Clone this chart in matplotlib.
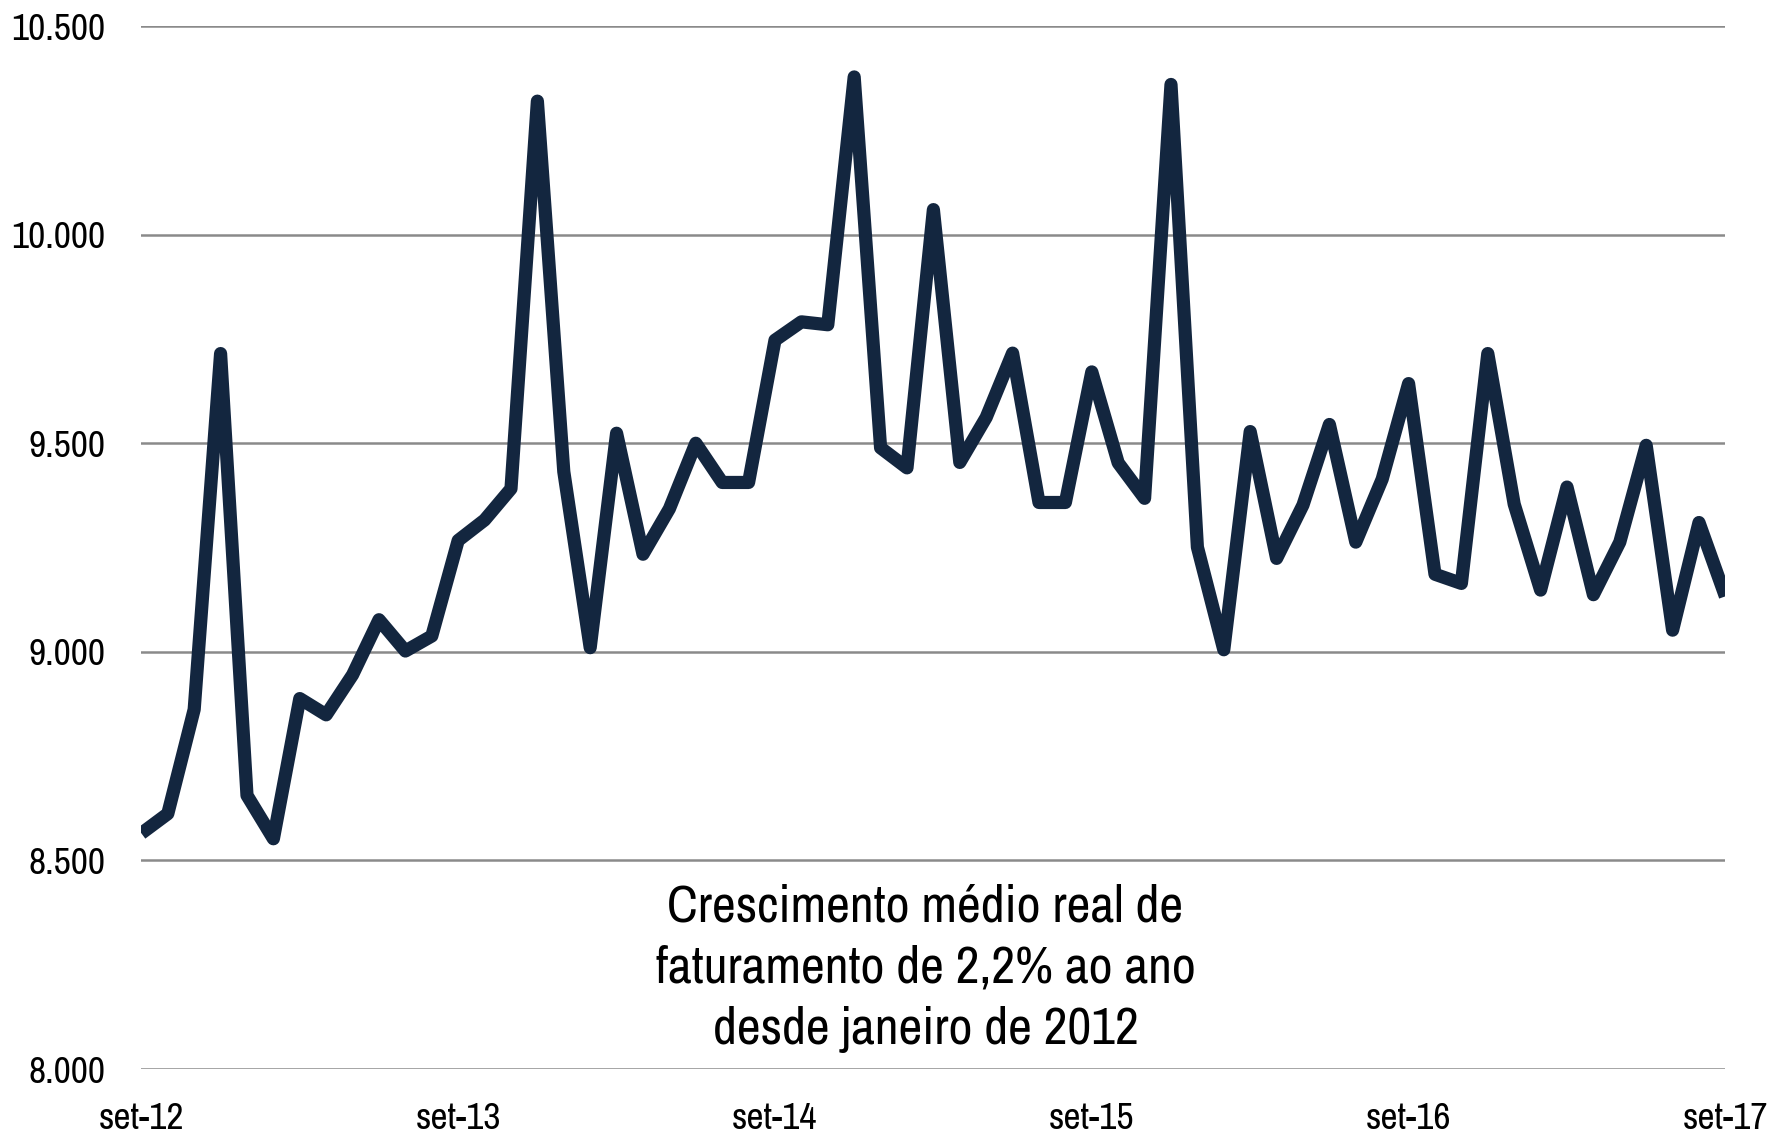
import matplotlib
matplotlib.use("Agg")
import matplotlib.pyplot as plt
import numpy as np

# monthly real revenue, set-12 .. set-17
values = [
    8565, 8612, 8862, 9715, 8656, 8552, 8888, 8849, 8945, 9077, 9002, 9038,
    9267, 9316, 9391, 10320, 9432, 9010, 9524, 9234, 9343, 9500, 9406, 9406,
    9747, 9791, 9784, 10378, 9489, 9441, 10060, 9454, 9562, 9716, 9358, 9358,
    9671, 9453, 9368, 10360, 9251, 9005, 9528, 9224, 9352, 9545, 9263, 9414,
    9643, 9186, 9164, 9715, 9354, 9148, 9395, 9137, 9263, 9495, 9052, 9310,
    9133,
]
tick_pos = [0, 12, 24, 36, 48, 60]
tick_labels = ["set-12", "set-13", "set-14", "set-15", "set-16", "set-17"]
y_ticks = [8000, 8500, 9000, 9500, 10000, 10500]
y_labels = ["8.000", "8.500", "9.000", "9.500", "10.000", "10.500"]
note = "Crescimento médio real de\nfaturamento de 2,2% ao ano\ndesde janeiro de 2012"

plt.rcParams["font.family"] = ["Archivo Narrow", "Liberation Sans", "DejaVu Sans"]

fig = plt.figure(figsize=(17.74, 11.32), dpi=100)
ax = fig.add_axes([0.0797, 0.0556, 0.8929, 0.9214])

ax.plot(np.arange(len(values)), values, color="#13263f", lw=9.5,
        solid_joinstyle="round", solid_capstyle="butt", zorder=3)

ax.set_xlim(0, 60)
ax.set_ylim(8000, 10500)
ax.set_yticks(y_ticks)
ax.set_yticklabels(y_labels)
ax.set_xticks(tick_pos)
ax.set_xticklabels(tick_labels)
ax.grid(axis="y", color="#8a8a8a", lw=1.8)
ax.set_axisbelow(True)
for s in ax.spines.values():
    s.set_visible(False)
ax.tick_params(axis="both", length=0, labelsize=27)
ax.tick_params(axis="y", pad=26)
ax.tick_params(axis="x", pad=24)

ax.text(29.7, 8242, note, ha="center", va="center", fontsize=37.5,
        linespacing=1.38, color="black")

fig.savefig("out.png", dpi=100)
